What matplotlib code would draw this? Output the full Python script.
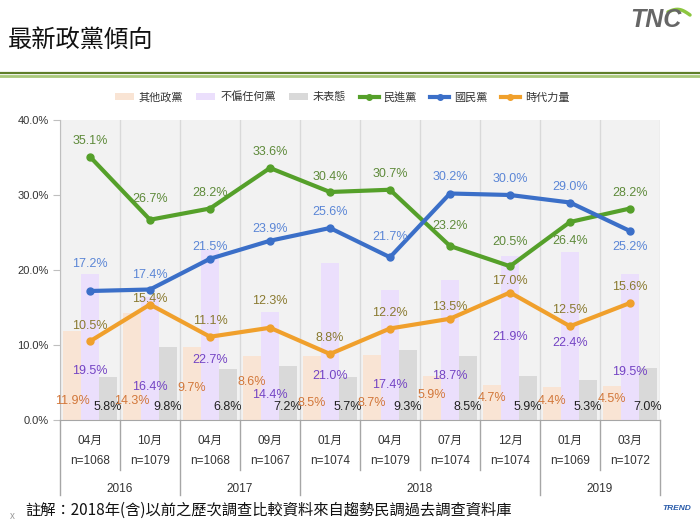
import matplotlib
matplotlib.use("Agg")
import matplotlib.pyplot as plt
from matplotlib.lines import Line2D
from matplotlib.patches import Patch
import numpy as np

plt.rcParams['font.family'] = ['Liberation Sans', 'Noto Sans CJK TC', 'DejaVu Sans']

# ---------------- data ----------------
months = ['04月', '10月', '04月', '09月', '01月', '04月', '07月', '12月', '01月', '03月']
samples = ['n=1068', 'n=1079', 'n=1068', 'n=1067', 'n=1074', 'n=1079', 'n=1074', 'n=1074', 'n=1069', 'n=1072']
years = ['2016', '2017', '2018', '2019']
year_counts = [2, 2, 4, 2]

other_party = [11.9, 14.3, 9.7, 8.6, 8.5, 8.7, 5.9, 4.7, 4.4, 4.5]      # 其他政黨
no_party = [19.5, 16.4, 22.7, 14.4, 21.0, 17.4, 18.7, 21.9, 22.4, 19.5]  # 不偏任何黨
undecided = [5.8, 9.8, 6.8, 7.2, 5.7, 9.3, 8.5, 5.9, 5.3, 7.0]          # 未表態
dpp = [35.1, 26.7, 28.2, 33.6, 30.4, 30.7, 23.2, 20.5, 26.4, 28.2]      # 民進黨
kmt = [17.2, 17.4, 21.5, 23.9, 25.6, 21.7, 30.2, 30.0, 29.0, 25.2]      # 國民黨
npp = [10.5, 15.4, 11.1, 12.3, 8.8, 12.2, 13.5, 17.0, 12.5, 15.6]       # 時代力量

# label placement (styling only)
other_label_y = [2.5, 2.5, 4.3, 5.1, 2.3, 2.3, 3.3, 2.9, 2.6, 2.8]
no_party_label_y = [6.5, 4.4, 8.0, 3.3, 5.9, 4.7, 5.9, 11.0, 10.3, 6.4]
undecided_label_y = 1.8
dpp_off = [-16, -21, -15, -16, -15, -16, -20, -24, 19, -16]
kmt_off = [-27, -15, -12, -12, -16, -20, -16, -16, -16, 16]
npp_off = [-15, -5, -16, -27, -16, -16, -12, -12, -16, -16]

# ---------------- figure ----------------
W, H = 700, 525
fig = plt.figure(figsize=(7, 5.25), dpi=100)
ax = fig.add_axes([60 / W, 1 - 420 / H, 600 / W, 300 / H])
ax.set_facecolor('#f2f2f2')

x = np.arange(len(months))
bw = 0.29
c_other, c_no, c_und = '#f9e4d4', '#ebdffc', '#d9d9d9'
ax.bar(x - 0.3, other_party, bw, color=c_other, zorder=2)
ax.bar(x, no_party, bw, color=c_no, zorder=2)
ax.bar(x + 0.3, undecided, bw, color=c_und, zorder=2)

g_line, b_line, o_line = '#55a02a', '#3b6fc8', '#f0a02c'
ax.plot(x, dpp, color=g_line, lw=3, marker='o', ms=5, zorder=4, solid_capstyle='round')
ax.plot(x, kmt, color=b_line, lw=3, marker='o', ms=5, zorder=4, solid_capstyle='round')
ax.plot(x, npp, color=o_line, lw=3, marker='o', ms=5, zorder=4, solid_capstyle='round')

for b in np.arange(-0.5, 10, 1.0):
    ax.axvline(b, color='#d9d9d9', lw=1, zorder=1)

ax.set_xlim(-0.5, 9.5)
ax.set_ylim(0, 40)
ax.set_yticks([0, 10, 20, 30, 40])
ax.set_yticklabels([f'{v:.1f}%' for v in [0, 10, 20, 30, 40]])
ax.tick_params(axis='y', length=5, color='#bfbfbf', labelsize=8, labelcolor='#333333', pad=3)
ax.set_xticks([])
for s in ['top', 'right']:
    ax.spines[s].set_visible(False)
ax.spines['left'].set_color('#bfbfbf')
ax.spines['bottom'].set_color('#a6a6a6')

fs = 9
lab_px = 72 / 100.0
for i in range(len(x)):
    ax.annotate(f'{dpp[i]:.1f}%', (x[i], dpp[i]), xytext=(0, -dpp_off[i] * lab_px),
                textcoords='offset points', ha='center', va='center', fontsize=fs, color='#5e8a3a', zorder=5)
    ax.annotate(f'{kmt[i]:.1f}%', (x[i], kmt[i]), xytext=(0, -kmt_off[i] * lab_px),
                textcoords='offset points', ha='center', va='center', fontsize=fs, color='#5b86d6', zorder=5)
    ax.annotate(f'{npp[i]:.1f}%', (x[i], npp[i]), xytext=(0, -npp_off[i] * lab_px),
                textcoords='offset points', ha='center', va='center', fontsize=fs, color='#8a7a30', zorder=5)
    ax.text(x[i] - 0.3, other_label_y[i], f'{other_party[i]:.1f}%', ha='center', va='center',
            fontsize=fs, color='#d2773a', zorder=5)
    ax.text(x[i], no_party_label_y[i], f'{no_party[i]:.1f}%', ha='center', va='center',
            fontsize=fs, color='#7444c4', zorder=5)
    ax.text(x[i] + 0.3, undecided_label_y, f'{undecided[i]:.1f}%', ha='center', va='center',
            fontsize=fs, color='#222222', zorder=5)

# ---------------- category axis ----------------
trans = ax.get_xaxis_transform()
sep_c = '#a6a6a6'
year_bounds = [-0.5]
for c in year_counts:
    year_bounds.append(year_bounds[-1] + c)
for b in np.arange(-0.5, 10, 1.0):
    y_end = -75 / 300 if b in year_bounds else -50 / 300
    ax.plot([b, b], [0, y_end], transform=trans, color=sep_c, lw=1, clip_on=False)
for i in range(len(x)):
    ax.text(x[i], -21 / 300, months[i], transform=trans, ha='center', va='center', fontsize=8.5, color='#333333')
    ax.text(x[i], -41 / 300, samples[i], transform=trans, ha='center', va='center', fontsize=8.5, color='#333333')
for j, yr in enumerate(years):
    mid = (year_bounds[j] + year_bounds[j + 1]) / 2
    ax.text(mid, -69 / 300, yr, transform=trans, ha='center', va='center', fontsize=8.5, color='#333333')

# ---------------- legend ----------------
handles = [
    Patch(facecolor=c_other, edgecolor='none', label='其他政黨'),
    Patch(facecolor=c_no, edgecolor='none', label='不偏任何黨'),
    Patch(facecolor=c_und, edgecolor='none', label='未表態'),
    Line2D([], [], color=g_line, lw=3, marker='o', ms=4, label='民進黨'),
    Line2D([], [], color=b_line, lw=3, marker='o', ms=4, label='國民黨'),
    Line2D([], [], color=o_line, lw=3, marker='o', ms=4, label='時代力量'),
]
leg = fig.legend(handles=handles, loc='center', bbox_to_anchor=(342 / W, 1 - 97 / H), ncol=6,
                 frameon=False, fontsize=8, handlelength=1.7, handletextpad=0.45,
                 columnspacing=1.2, handleheight=0.6)
for t in leg.get_texts():
    t.set_color('#333333')

# ---------------- header / footer ----------------
fig.text(8 / W, 1 - 40 / H, '最新政黨傾向', fontsize=17.5, ha='left', va='center',
         family=['Noto Sans CJK TC', 'DejaVu Sans'], color='#111111')
fig.add_artist(Line2D([0, 1], [1 - 72.5 / H, 1 - 72.5 / H], color='#5f7f2a', lw=1.6))
fig.add_artist(Line2D([0, 1], [1 - 75.5 / H, 1 - 75.5 / H], color='#a9c97a', lw=2.0))
fig.text(656 / W, 1 - 20 / H, 'TNC', fontsize=18, ha='center', va='center', color='#666666',
         style='italic', weight='bold')
sw_t = np.linspace(0, 1, 20)
fig.add_artist(Line2D((668 + 22 * sw_t) / W, 1 - (12 - 4 * np.sin(np.pi * sw_t) + 3 * sw_t) / H,
                      color='#8cc63f', lw=2.5, solid_capstyle='round'))
fig.text(25 / W, 1 - 510 / H, '註解：2018年(含)以前之歷次調查比較資料來自趨勢民調過去調查資料庫',
         fontsize=11, ha='left', va='center', family=['Noto Sans CJK TC', 'DejaVu Sans'], color='#111111')
fig.text(12 / W, 1 - 516 / H, 'x', fontsize=7, ha='center', va='center', color='#999999')
fig.text(677 / W, 1 - 509 / H, 'TREND', fontsize=6, ha='center', va='center', color='#2a5caa',
         style='italic', weight='bold')

fig.savefig('out.png', dpi=100)
